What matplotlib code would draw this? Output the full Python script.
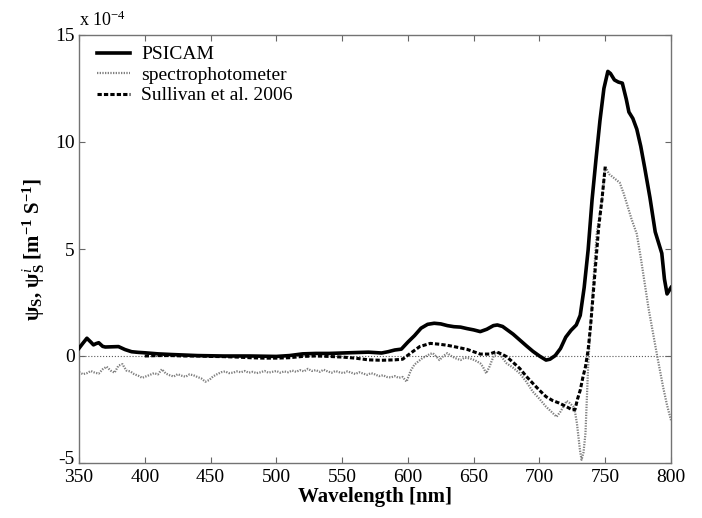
import numpy as np
import matplotlib
matplotlib.use('Agg')
import matplotlib.pyplot as plt
import matplotlib.transforms as mtransforms

# values in units of 1e-4 m^-1 S^-1
psicam_wl = [350, 353, 356, 359, 361, 363, 365, 368, 370, 375, 380, 385, 390, 395, 400, 410, 420, 440,
             460, 480, 500, 510, 520, 530, 540, 550, 560, 570, 580, 585, 590, 595, 600, 605, 610, 615,
             620, 625, 630, 635, 640, 645, 650, 655, 660, 665, 668, 672, 676, 680, 685, 690, 695, 700,
             705, 708, 712, 716, 720, 724, 728, 731, 734, 737, 740, 743, 746, 749, 752, 754, 757, 760,
             763, 766, 768, 771, 774, 777, 780, 784, 788, 791, 793, 795, 797, 799, 800]
psicam = [0.36, 0.6, 0.83, 0.65, 0.52, 0.58, 0.62, 0.45, 0.42, 0.43, 0.44, 0.3, 0.2, 0.17, 0.15, 0.1, 0.07, 0.02,
          0.0, 0.0, -0.02, 0.02, 0.1, 0.12, 0.12, 0.14, 0.16, 0.18, 0.14, 0.2, 0.28, 0.32, 0.65, 0.95, 1.3, 1.48,
          1.53, 1.5, 1.42, 1.37, 1.35, 1.28, 1.22, 1.14, 1.25, 1.42, 1.45, 1.38, 1.2, 1.02, 0.75, 0.48, 0.22, 0.0,
          -0.19, -0.15, 0.02, 0.35, 0.88, 1.2, 1.45, 1.9, 3.2, 4.95, 7.3, 9.2, 11.0, 12.5, 13.3, 13.2, 12.9, 12.8,
          12.75, 12.0, 11.4, 11.1, 10.6, 9.8, 8.8, 7.4, 5.8, 5.2, 4.8, 3.6, 2.9, 3.1, 3.2]

spec_wl_a = list(range(350, 600, 3))
spec_a = [-0.75, -0.85, -0.8, -0.7, -0.78, -0.82, -0.62, -0.5, -0.68, -0.78,
          -0.45, -0.38, -0.68, -0.72, -0.85, -0.92, -1.02, -0.95, -0.88, -0.8,
          -0.86, -0.62, -0.82, -0.9, -0.96, -0.85, -0.92, -0.97, -0.86, -0.9,
          -0.98, -1.05, -1.2, -1.12, -0.95, -0.85, -0.76, -0.72, -0.8, -0.78,
          -0.72, -0.76, -0.7, -0.78, -0.74, -0.8, -0.76, -0.7, -0.78, -0.74,
          -0.7, -0.78, -0.72, -0.76, -0.68, -0.74, -0.66, -0.72, -0.6, -0.7,
          -0.66, -0.74, -0.64, -0.72, -0.78, -0.7, -0.76, -0.8, -0.72, -0.78,
          -0.84, -0.76, -0.82, -0.88, -0.8, -0.86, -0.94, -0.9, -0.98, -1.0,
          -0.94, -1.02, -0.98, -1.2]
spec_wl_b = [602, 605, 608, 611, 614, 617, 619, 622, 624, 627, 630, 633, 636, 640, 643, 647, 651, 655,
             657, 659.5, 662, 665, 668.7, 672, 675, 680, 685, 690, 695, 700, 705, 709, 713, 716, 720.7,
             723, 725.7, 727, 728.5, 730.8, 732, 733.5, 735, 737, 740, 743.5, 747.5, 750, 753, 757, 761,
             764, 767, 770, 774, 777, 780, 783, 785.5, 789.5, 794, 797, 800]
spec_b = [-0.7, -0.4, -0.25, -0.1, 0.0, 0.1, 0.13, -0.05, -0.19, 0.0, 0.13, 0.0, -0.1, -0.19, -0.08, -0.11, -0.2, -0.34,
          -0.5, -0.81, -0.5, -0.03, 0.2, -0.1, -0.34, -0.55, -0.81, -1.2, -1.67, -2.0, -2.37, -2.6, -2.84, -2.6, -2.1,
          -2.2, -2.37, -2.6, -3.15, -4.4, -4.85, -4.5, -3.6, -0.5, 2.6, 5.7, 7.3, 8.85, 8.5, 8.3, 8.1,
          7.6, 7.0, 6.4, 5.7, 4.6, 3.4, 2.2, 1.35, 0.0, -1.45, -2.3, -3.0]

sull_wl = [400, 410, 420, 430, 440, 450, 460, 470, 480, 490, 500, 510, 520, 530, 540, 550, 560, 570, 580, 590,
           596, 602, 609, 617, 624, 630, 635, 645, 650, 655, 662, 667, 671, 675, 680, 685, 690, 695, 700, 705,
           710, 715, 720, 725, 727, 729, 731, 733, 735, 737, 739, 741, 743, 745, 747.5, 750]
sull = [0.0, 0.02, 0.02, 0.0, 0.0, -0.02, -0.03, -0.05, -0.08, -0.1, -0.1, -0.08, -0.02, 0.0, -0.02, -0.05, -0.1, -0.18, -0.2, -0.18,
        -0.15, 0.13, 0.44, 0.59, 0.55, 0.5, 0.44, 0.31, 0.2, 0.09, 0.09, 0.2, 0.1, -0.03, -0.3, -0.58, -0.95, -1.28, -1.6, -1.9,
        -2.08, -2.2, -2.35, -2.52, -2.5, -2.0, -1.6, -1.0, -0.5, 0.28, 1.5, 3.0, 4.5, 6.0, 7.3, 8.85]

spec_wl = spec_wl_a + spec_wl_b
spec = spec_a + spec_b

plt.rcParams['font.family'] = ['Liberation Serif', 'DejaVu Serif']
plt.rcParams['axes.unicode_minus'] = False
plt.rcParams['mathtext.fontset'] = 'custom'
plt.rcParams['mathtext.rm'] = 'Liberation Serif'
plt.rcParams['mathtext.it'] = 'Liberation Serif:italic'
plt.rcParams['mathtext.bf'] = 'Liberation Serif:bold'

fig = plt.figure(figsize=(7.02, 5.18), dpi=100)
ax = fig.add_axes([79 / 702, 1 - 463 / 518, 592 / 702, 428 / 518])

ax.axhline(0, color='0.35', lw=0.8, ls=':', zorder=1)
ax.plot(psicam_wl, psicam, color='black', lw=2.6, label='PSICAM', zorder=4)
ax.plot(spec_wl, spec, color='0.5', lw=1.6, ls=(0, (0.6, 0.6)), label='spectrophotometer', zorder=2)
ax.plot(sull_wl, sull, color='black', lw=2.2, ls=(0, (1.4, 0.7)), label='Sullivan et al. 2006', zorder=3)

ax.set_xlim(350, 800)
ax.set_ylim(-5, 15)
ax.set_xticks(range(350, 801, 50))
ax.set_yticks([-5, 0, 5, 10, 15])
ax.tick_params(direction='in', length=4, width=0.8, color='0.4', labelsize=14,
               top=True, right=True, pad=3)
ax.tick_params(axis='x', pad=4)
for s in ax.spines.values():
    s.set_color('0.45')
    s.set_linewidth(1.0)

# nudge the bottom y label up a little, it sits right on top of "350"
fig.canvas.draw()
lab = ax.get_yticklabels()[0]
lab.set_transform(lab.get_transform() + mtransforms.ScaledTranslation(0, 4 / 72, fig.dpi_scale_trans))

ax.text(0.0, 1.012, r'x 10$^{-4}$', transform=ax.transAxes, ha='left', va='bottom', fontsize=13)

ax.set_xlabel('Wavelength [nm]', fontsize=15, fontweight='bold', labelpad=1)
ax.set_ylabel(r'ψ$_\mathbf{S}$, ψ$^{\it i}_\mathbf{S}$ [m$^\mathbf{-1}$ S$^\mathbf{-1}$]',
              fontsize=15, fontweight='bold', labelpad=6)

ax.legend(loc='upper left', bbox_to_anchor=(0.03, 0.975), frameon=False, fontsize=14,
          handlelength=1.7, handletextpad=0.6, labelspacing=0.15, borderpad=0, borderaxespad=0)

plt.savefig('out.png', dpi=100)
